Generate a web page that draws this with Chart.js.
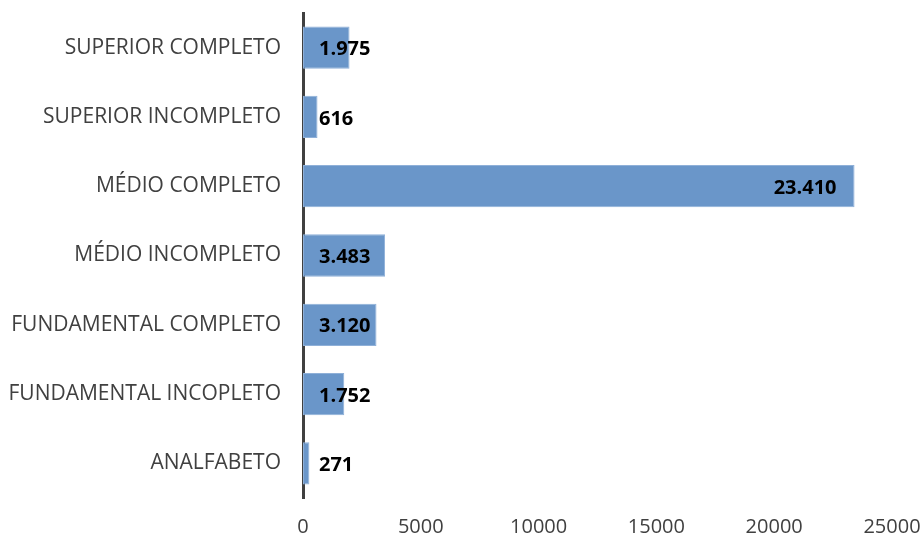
<!DOCTYPE html>
<html>
<head>
<meta charset="utf-8">
<script src="https://cdn.jsdelivr.net/npm/chart.js@4/dist/chart.umd.min.js"></script>
<style>
  html, body { margin: 0; padding: 0; background: #fff; }
  #wrap { width: 923px; height: 537px; }
</style>
</head>
<body>
<div id="wrap"><canvas id="escolaridade-chart"></canvas></div>
<script>
// categorias de cima para baixo
var categorias = ["SUPERIOR COMPLETO", "SUPERIOR INCOMPLETO", "MÉDIO COMPLETO", "MÉDIO INCOMPLETO",
                  "FUNDAMENTAL COMPLETO", "FUNDAMENTAL INCOPLETO", "ANALFABETO"];
var valores = [1975, 616, 23410, 3483, 3120, 1752, 271];
var rotulos = ["1.975", "616", "23.410", "3.483", "3.120", "1.752", "271"];
var eixoMax = 25000;
var eixoPasso = 5000;

// rotulos de dados: dentro do fim da barra, ou junto da base se nao couber
var rotulosPlugin = {
    id: 'rotulos',
    afterDatasetsDraw: function(chart) {
        var ctx = chart.ctx;
        var meta = chart.getDatasetMeta(0);
        var x0 = chart.scales.x.getPixelForValue(0);
        ctx.save();
        ctx.font = 'bold 20px "Open Sans"';
        ctx.fillStyle = '#000';
        ctx.textBaseline = 'middle';
        ctx.textAlign = 'left';
        meta.data.forEach(function(bar, i) {
            var w = ctx.measureText(rotulos[i]).width;
            var x = Math.max(x0 + 16, bar.x - 18 - w);
            ctx.fillText(rotulos[i], x, bar.y + 2);
        });
        ctx.restore();
    }
};

var ctx = document.getElementById("escolaridade-chart").getContext('2d');
var myChart = new Chart(ctx, {
    type: 'bar',
    data: {
        labels: categorias,
        datasets: [{
            data: valores,
            backgroundColor: '#6A96C9',
            borderColor: '#8FB0D8',
            borderWidth: 1,
            borderSkipped: false,
            barPercentage: 0.61,
            categoryPercentage: 1
        }]
    },
    options: {
        indexAxis: 'y',
        responsive: true,
        maintainAspectRatio: false,
        animation: false,
        layout: { padding: { top: 13, right: 31, bottom: 0, left: 0 } },
        plugins: { legend: { display: false }, tooltip: { enabled: false } },
        scales: {
            x: {
                min: 0,
                max: eixoMax,
                grid: { display: false },
                border: { display: false },
                ticks: {
                    stepSize: eixoPasso,
                    padding: 9,
                    color: '#404040',
                    font: { family: '"Open Sans"', size: 20 },
                    callback: function(v) { return String(v); }
                },
                afterFit: function(s) { s.height = 39; s.paddingLeft = 0; s.paddingRight = 0; }
            },
            y: {
                grid: { display: false },
                border: { display: true, color: '#404040', width: 3 },
                ticks: {
                    padding: 14,
                    color: '#404040',
                    font: { family: '"Open Sans"', size: 21 }
                },
                afterFit: function(s) { s.width = 303; s.paddingTop = 0; s.paddingBottom = 0; }
            }
        }
    },
    plugins: [rotulosPlugin]
});
</script>
</body>
</html>
